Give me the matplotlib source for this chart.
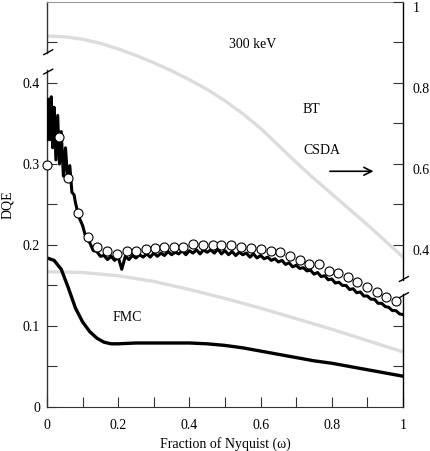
import matplotlib
matplotlib.use("Agg")
import matplotlib.pyplot as plt
import matplotlib.transforms as mtransforms

plt.rcParams['font.family'] = ['Liberation Serif', 'DejaVu Serif']
plt.rcParams['font.size'] = 10

# 噪声 DQE 曲线 (黑色锯齿)
w_noisy = [0.000, 0.004, 0.008, 0.012, 0.016, 0.020, 0.025, 0.030, 0.035, 0.040,
           0.046, 0.052, 0.058, 0.064, 0.070, 0.076,
           0.08, 0.09, 0.10, 0.11, 0.12, 0.13, 0.14, 0.15, 0.16, 0.17,
           0.18, 0.19, 0.20, 0.21, 0.22, 0.23, 0.24, 0.25, 0.26, 0.27,
           0.28, 0.29, 0.30, 0.31, 0.32, 0.33, 0.34, 0.35, 0.36, 0.37,
           0.38, 0.39, 0.40, 0.41, 0.42, 0.43, 0.44, 0.45, 0.46, 0.47,
           0.48, 0.49, 0.50, 0.51, 0.52, 0.53, 0.54, 0.55, 0.56, 0.57,
           0.58, 0.59, 0.60, 0.61, 0.62, 0.63, 0.64, 0.65, 0.66, 0.67,
           0.68, 0.69, 0.70, 0.71, 0.72, 0.73, 0.74, 0.75, 0.76, 0.77,
           0.78, 0.79, 0.80, 0.81, 0.82, 0.83, 0.84, 0.85, 0.86, 0.87,
           0.88, 0.89, 0.90, 0.91, 0.92, 0.93, 0.94, 0.95, 0.96, 0.97,
           0.98, 0.99, 1.00]
dqe_noisy = [0.330, 0.380, 0.330, 0.383, 0.320, 0.370, 0.305, 0.360, 0.300, 0.340,
             0.285, 0.320, 0.280, 0.298, 0.265, 0.262,
             0.252, 0.234, 0.224, 0.208, 0.203, 0.193, 0.192, 0.186, 0.187, 0.182,
             0.186, 0.181, 0.185, 0.170, 0.186, 0.182, 0.187, 0.184, 0.188, 0.185,
             0.189, 0.185, 0.190, 0.186, 0.190, 0.187, 0.192, 0.188, 0.191, 0.189,
             0.193, 0.188, 0.193, 0.190, 0.194, 0.189, 0.194, 0.191, 0.194, 0.190,
             0.195, 0.189, 0.193, 0.188, 0.192, 0.187, 0.191, 0.188, 0.190, 0.185,
             0.189, 0.184, 0.187, 0.183, 0.185, 0.181, 0.183, 0.179, 0.181, 0.176,
             0.178, 0.173, 0.175, 0.171, 0.172, 0.168, 0.169, 0.164, 0.166, 0.161,
             0.162, 0.157, 0.158, 0.153, 0.154, 0.150, 0.150, 0.145, 0.146, 0.141,
             0.142, 0.137, 0.137, 0.133, 0.133, 0.128, 0.128, 0.124, 0.123, 0.119,
             0.119, 0.115, 0.114]

# 空心圆点
w_circ = [0.000, 0.033, 0.059, 0.087, 0.115, 0.141, 0.169, 0.197, 0.225, 0.250,
          0.277, 0.303, 0.329, 0.357, 0.383, 0.411, 0.439, 0.465, 0.490, 0.518,
          0.546, 0.572, 0.600, 0.628, 0.655, 0.682, 0.711, 0.737, 0.764, 0.791,
          0.818, 0.845, 0.872, 0.899, 0.926, 0.953, 0.980]
dqe_circ = [0.299, 0.333, 0.283, 0.239, 0.210, 0.198, 0.193, 0.189, 0.193, 0.193,
            0.195, 0.196, 0.197, 0.198, 0.198, 0.201, 0.200, 0.200, 0.200, 0.200,
            0.198, 0.196, 0.195, 0.193, 0.191, 0.187, 0.181, 0.177, 0.176, 0.168,
            0.165, 0.160, 0.154, 0.148, 0.142, 0.136, 0.131]

# FMC 曲线
w_fmc = [0.00, 0.02, 0.04, 0.06, 0.08, 0.10, 0.12, 0.14, 0.16, 0.18, 0.20,
         0.25, 0.30, 0.35, 0.40, 0.45, 0.50, 0.55, 0.60, 0.65, 0.70, 0.75,
         0.80, 0.85, 0.90, 0.95, 1.00]
dqe_fmc = [0.184, 0.181, 0.170, 0.147, 0.122, 0.105, 0.093, 0.085, 0.080, 0.078, 0.078,
           0.079, 0.079, 0.079, 0.079, 0.078, 0.076, 0.073, 0.069, 0.065, 0.061, 0.057,
           0.054, 0.050, 0.046, 0.042, 0.038]

# 灰色曲线 (上)
w_gray1 = [0.00, 0.05, 0.10, 0.15, 0.20, 0.25, 0.30, 0.35, 0.40, 0.45, 0.50,
           0.55, 0.60, 0.65, 0.70, 0.75, 0.80, 0.85, 0.90, 0.95, 1.00]
v_gray1 = [0.458, 0.457, 0.454, 0.449, 0.442, 0.434, 0.425, 0.415, 0.404, 0.392, 0.378,
           0.362, 0.344, 0.323, 0.302, 0.282, 0.263, 0.244, 0.225, 0.205, 0.185]

# 灰色曲线 (下)
w_gray2 = [0.00, 0.10, 0.20, 0.30, 0.40, 0.50, 0.60, 0.70, 0.80, 0.90, 1.00]
v_gray2 = [0.167, 0.166, 0.162, 0.155, 0.145, 0.134, 0.122, 0.109, 0.096, 0.082, 0.068]

fig = plt.figure(figsize=(4.30, 4.51), dpi=100)
ax = fig.add_axes([0.1093, 0.0976, 0.8279, 0.898])

gray = '#dcdcdc'
ax.plot(w_gray1, v_gray1, color=gray, lw=2.4, solid_capstyle='butt', zorder=1)
ax.plot(w_gray2, v_gray2, color=gray, lw=2.4, solid_capstyle='butt', zorder=1)
ax.plot(w_fmc, dqe_fmc, color='black', lw=2.4, zorder=2)
ax.plot(w_noisy, dqe_noisy, color='black', lw=2.2, zorder=3)
ax.plot(w_circ, dqe_circ, 'o', ms=6.5, mfc='white', mec='black', mew=0.8,
        zorder=4, clip_on=False)

ax.set_xlim(0, 1)
ax.set_ylim(0, 0.5)

for s in ['left', 'right']:
    ax.spines[s].set_visible(False)
ax.spines['top'].set_color('#999999')
ax.spines['bottom'].set_color('#333333')

ax.set_xticks([0, 0.1, 0.2, 0.3, 0.4, 0.5, 0.6, 0.7, 0.8, 0.9, 1.0])
ax.set_xticklabels(['0', '', '0.2', '', '0.4', '', '0.6', '', '0.8', '', '1'])
ax.set_yticks([0, 0.05, 0.1, 0.15, 0.2, 0.25, 0.3, 0.35, 0.4, 0.45])
ax.set_yticklabels(['0', '', '0.1', '', '0.2', '', '0.3', '', '0.4', ''])
ax.tick_params(axis='x', direction='in', length=7, width=0.8, color='#333333', pad=9)
ax.tick_params(axis='y', direction='in', length=7, width=0.8, color='#333333', pad=5)

# 右侧坐标轴
ax2 = ax.twinx()
ax2.set_ylim(0, 1.0)
for s in ax2.spines.values():
    s.set_visible(False)
ax2.set_yticks([0.1, 0.2, 0.4, 0.5, 0.6, 0.7, 0.8, 0.9, 1.0])
ax2.set_yticklabels(['', '', '0.4', '', '0.6', '', '0.8', '', '1'])
ax2.tick_params(axis='y', direction='in', length=7, width=0.8, color='#333333', pad=7)
for lab in ax2.get_yticklabels():
    lab.set_va('top')

# 断轴的坐标轴线
tr = mtransforms.blended_transform_factory(ax.transAxes, ax.transData)
ax.plot([0, 0], [0, 0.416], color='#333333', lw=1.0, transform=tr, clip_on=False)
ax.plot([0, 0], [0.437, 0.5], color='#333333', lw=1.0, transform=tr, clip_on=False)
ax.plot([1, 1], [0, 0.139], color='black', lw=1.0, transform=tr, clip_on=False)
ax.plot([1, 1], [0.157, 0.5], color='black', lw=1.0, transform=tr, clip_on=False)
for y0 in [0.414, 0.438]:
    ax.plot([-0.009, 0.016], [y0 - 0.003, y0 + 0.003], color='black', lw=1.0,
            transform=tr, clip_on=False)
for y0 in [0.138, 0.158]:
    ax.plot([0.99, 1.015], [y0 - 0.003, y0 + 0.003], color='black', lw=1.0,
            transform=tr, clip_on=False)

ax.text(0.579, 0.447, '300 keV', ha='center', va='center')
ax.text(0.719, 0.367, 'BT', ha='left', va='center')
ax.text(0.719, 0.317, 'CSDA', ha='left', va='center')
ax.text(0.185, 0.110, 'FMC', ha='left', va='center')
ax.annotate('', xy=(0.925, 0.291), xytext=(0.787, 0.291),
            arrowprops=dict(arrowstyle='->', color='black', lw=1.2,
                            mutation_scale=14))

ax.set_xlabel('Fraction of Nyquist (\u03c9)', labelpad=3)
ax.set_ylabel('DQE', labelpad=6)

fig.savefig('out.png', dpi=100)
